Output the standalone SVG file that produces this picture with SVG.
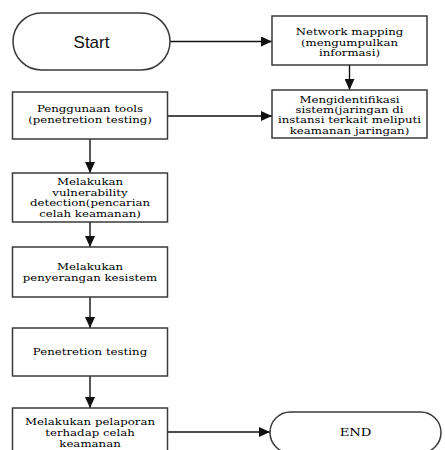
<svg xmlns="http://www.w3.org/2000/svg" width="445" height="450" viewBox="0 0 445 450">
<style>
.box{fill:#fff;stroke:#3a3a3a;stroke-width:1.5}
.t{font-family:"DejaVu Serif","Liberation Serif",serif;font-size:9.5px;fill:#000;text-anchor:middle}
.s{font-family:"Liberation Sans",Arial,sans-serif;font-size:17px;fill:#111;text-anchor:middle}
.c{fill:none;stroke:#111;stroke-width:1.4}
</style>
<defs>
<marker id="ah" markerUnits="userSpaceOnUse" markerWidth="12" markerHeight="10" refX="11" refY="5" orient="auto">
<path d="M0,0 L11,5 L0,10 Z" fill="#111"/>
</marker>
</defs>
<rect width="445" height="450" fill="#fff"/>
<g id="connectors">
<line class="c" x1="170" y1="41.5" x2="272" y2="41.5" marker-end="url(#ah)"/>
<line class="c" x1="349.5" y1="65" x2="349.5" y2="90" marker-end="url(#ah)"/>
<line class="c" x1="167.5" y1="116" x2="272" y2="116" marker-end="url(#ah)"/>
<line class="c" x1="90" y1="139" x2="90" y2="173" marker-end="url(#ah)"/>
<line class="c" x1="90" y1="222" x2="90" y2="247" marker-end="url(#ah)"/>
<line class="c" x1="90" y1="297" x2="90" y2="328" marker-end="url(#ah)"/>
<line class="c" x1="90" y1="376" x2="90" y2="408" marker-end="url(#ah)"/>
<line class="c" x1="167.5" y1="432" x2="270" y2="432" marker-end="url(#ah)"/>
</g>
<g id="start">
<rect class="box" x="13" y="13" width="157" height="57" rx="28.5" ry="28.5"/>
<text class="s" x="91.5" y="47.5">Start</text>
</g>
<g id="network">
<rect class="box" x="272" y="16" width="155" height="49"/>
<g transform="translate(349.5 0) scale(1.24 1)">
<text class="t" x="0" y="35.2">Network mapping</text>
<text class="t" x="0" y="45.7">(mengumpulkan</text>
<text class="t" x="0" y="56.2">informasi)</text>
</g>
</g>
<g id="identifikasi">
<rect class="box" x="272" y="90" width="155" height="48"/>
<g transform="translate(349.5 0) scale(1.24 1)">
<text class="t" x="0" y="102.6">Mengidentifikasi</text>
<text class="t" x="0" y="113">sistem(jaringan di</text>
<text class="t" x="0" y="123.4">instansi terkait meliputi</text>
<text class="t" x="0" y="133.8">keamanan jaringan)</text>
</g>
</g>
<g id="penggunaan">
<rect class="box" x="12.5" y="92" width="155" height="47"/>
<g transform="translate(90 0) scale(1.24 1)">
<text class="t" x="0" y="112.2">Penggunaan tools</text>
<text class="t" x="0" y="122.8">(penetretion testing)</text>
</g>
</g>
<g id="vulnerability">
<rect class="box" x="12.5" y="173" width="155" height="49"/>
<g transform="translate(90 0) scale(1.24 1)">
<text class="t" x="0" y="185">Melakukan</text>
<text class="t" x="0" y="195.7">vulnerability</text>
<text class="t" x="0" y="206.4">detection(pencarian</text>
<text class="t" x="0" y="217.1">celah keamanan)</text>
</g>
</g>
<g id="penyerangan">
<rect class="box" x="12.5" y="247" width="155" height="50"/>
<g transform="translate(90 0) scale(1.24 1)">
<text class="t" x="0" y="270.5">Melakukan</text>
<text class="t" x="0" y="281.2">penyerangan kesistem</text>
</g>
</g>
<g id="penetretion">
<rect class="box" x="12.5" y="328" width="155" height="48"/>
<g transform="translate(90 0) scale(1.24 1)">
<text class="t" x="0" y="355.5">Penetretion testing</text>
</g>
</g>
<g id="pelaporan">
<rect class="box" x="12.5" y="408" width="155" height="55"/>
<g transform="translate(90 0) scale(1.24 1)">
<text class="t" x="0" y="425.5">Melakukan pelaporan</text>
<text class="t" x="0" y="436.3">terhadap celah</text>
<text class="t" x="0" y="447.1">keamanan</text>
</g>
</g>
<g id="end">
<rect class="box" x="270" y="412" width="171" height="41" rx="20.5" ry="20.5"/>
<g transform="translate(355.5 0) scale(1.2 1)">
<text class="t" x="0" y="436" style="font-size:11px">END</text>
</g>
</g>
</svg>
